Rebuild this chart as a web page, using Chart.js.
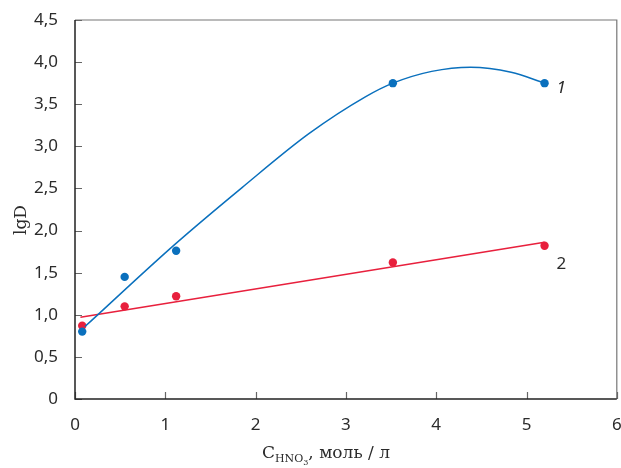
<!DOCTYPE html>
<html>
<head>
<meta charset="utf-8">
<script src="https://cdn.jsdelivr.net/npm/chart.js@4"></script>
<style>
  html, body { margin: 0; padding: 0; background: #fff; }
  #wrap { width: 621px; height: 468px; }
</style>
</head>
<body>
<div id="wrap"><canvas id="c"></canvas></div>
<script>
/* ═══ DATA ═════════════════════════════════════════════ */
const conc  = [0.08, 0.55, 1.12, 3.52, 5.2];     // C HNO3, моль/л
const lgD1  = [0.80, 1.45, 1.76, 3.75, 3.75];    // серия 1 (точки)
const lgD2  = [0.87, 1.10, 1.22, 1.62, 1.82];    // серия 2 (точки)

// кривая 1
const curve1X = [0.11, 1.10, 1.85, 2.59, 3.22, 3.52, 3.95, 4.38, 4.83, 5.2];
const curve1Y = [0.86, 1.83, 2.51, 3.15, 3.59, 3.75, 3.89, 3.94, 3.88, 3.75];
// прямая 2
const line2X = [0.06, 5.2];
const line2Y = [0.97, 1.86];

const xTicks = [0, 1, 2, 3, 4, 5, 6];
const yTicks = [0, 0.5, 1, 1.5, 2, 2.5, 3, 3.5, 4, 4.5];

const BLUE = '#0a70bd';
const RED  = '#e8203d';
const TXT  = '#2b2b2b';
const SANS = '"Noto Sans", "Open Sans", sans-serif';
const SERIF = '"DejaVu Serif", "Liberation Serif", serif';

const pts = (xs, ys) => xs.map((x, i) => ({x, y: ys[i]}));
const fmtY = v => v === 0 ? '0' : v.toFixed(1).replace('.', ',');

/* ═══ PLUGIN: frame, inward ticks, titles, labels ═════ */
const decor = {
  id: 'decor',
  afterDraw(chart) {
    const {ctx, chartArea: a, scales: {x, y}} = chart;
    ctx.save();
    // top / right frame
    ctx.strokeStyle = '#777'; ctx.lineWidth = 1.2;
    ctx.beginPath();
    ctx.moveTo(a.left, a.top); ctx.lineTo(a.right, a.top); ctx.lineTo(a.right, a.bottom);
    ctx.stroke();
    // inward ticks
    ctx.strokeStyle = '#666'; ctx.lineWidth = 1.2;
    ctx.beginPath();
    yTicks.forEach(v => { const py = Math.round(y.getPixelForValue(v)) + 0.5; ctx.moveTo(a.left, py); ctx.lineTo(a.left + 7, py); });
    xTicks.forEach(v => { const px = Math.round(x.getPixelForValue(v)) + 0.5; ctx.moveTo(px, a.bottom); ctx.lineTo(px, a.bottom - 7); });
    ctx.stroke();
    // left / bottom axis
    ctx.strokeStyle = '#222'; ctx.lineWidth = 1.5;
    ctx.beginPath();
    ctx.moveTo(a.left, a.top); ctx.lineTo(a.left, a.bottom); ctx.lineTo(a.right, a.bottom);
    ctx.stroke();

    ctx.fillStyle = TXT;
    ctx.textBaseline = 'alphabetic';
    // x title: C_HNO3, моль/л
    const cx = 262, cy = 458;
    ctx.textAlign = 'left';
    ctx.font = '17px ' + SERIF;
    ctx.fillText('C', cx, cy);
    let w = ctx.measureText('C').width;
    ctx.font = '11px ' + SERIF;
    ctx.fillText('HNO', cx + w, cy + 4);
    let w2 = ctx.measureText('HNO').width;
    ctx.font = '8px ' + SERIF;
    ctx.fillText('3', cx + w + w2, cy + 7);
    let w3 = ctx.measureText('3').width;
    ctx.font = '17px ' + SERIF;
    ctx.fillText(', моль / л', cx + w + w2 + w3, cy);
    // y title
    ctx.save();
    ctx.translate(26, 220);
    ctx.rotate(-Math.PI / 2);
    ctx.textAlign = 'center';
    ctx.font = '17px ' + SERIF;
    ctx.fillText('lgD', 0, 0);
    ctx.restore();
    // curve labels
    ctx.textAlign = 'left';
    ctx.font = 'italic 17px ' + SANS;
    ctx.fillText('1', x.getPixelForValue(conc[4]) + 12, y.getPixelForValue(lgD1[4]) + 10);
    ctx.font = '17px ' + SANS;
    ctx.fillText('2', x.getPixelForValue(conc[4]) + 12, y.getPixelForValue(lgD2[4]) + 23);
    ctx.restore();
  }
};

/* ═══ CHART ════════════════════════════════════════════ */
new Chart(document.getElementById('c'), {
  type: 'scatter',
  data: {
    datasets: [
      {data: pts(curve1X, curve1Y), showLine: true, cubicInterpolationMode: 'monotone', borderColor: BLUE, borderWidth: 1.5, pointRadius: 0, fill: false},
      {data: pts(line2X, line2Y), showLine: true, borderColor: RED, borderWidth: 1.5, pointRadius: 0, fill: false},
      {data: pts(conc, lgD1), backgroundColor: BLUE, borderColor: BLUE, pointRadius: 4.2, borderWidth: 0},
      {data: pts(conc, lgD2), backgroundColor: RED, borderColor: RED, pointRadius: 4.2, borderWidth: 0}
    ]
  },
  options: {
    responsive: true, maintainAspectRatio: false, animation: false,
    layout: {padding: {top: 20, right: 0, left: 0, bottom: 0}},
    plugins: {legend: {display: false}, tooltip: {enabled: false}},
    scales: {
      x: {
        type: 'linear', min: 0, max: 6,
        afterFit: s => { s.height = 69; s.paddingLeft = 0; s.paddingRight = 0; },
        afterBuildTicks: s => { s.ticks = xTicks.map(v => ({value: v})); },
        grid: {display: false}, border: {display: false},
        ticks: {color: TXT, font: {family: SANS, size: 17}, padding: 8, maxRotation: 0}
      },
      y: {
        type: 'linear', min: 0, max: 4.5,
        afterFit: s => { s.width = 75; s.paddingTop = 0; s.paddingBottom = 0; },
        afterBuildTicks: s => { s.ticks = yTicks.map(v => ({value: v})); },
        grid: {display: false}, border: {display: false},
        ticks: {color: TXT, font: {family: SANS, size: 17}, padding: 9, callback: fmtY}
      }
    }
  },
  plugins: [decor]
});
</script>
</body>
</html>
